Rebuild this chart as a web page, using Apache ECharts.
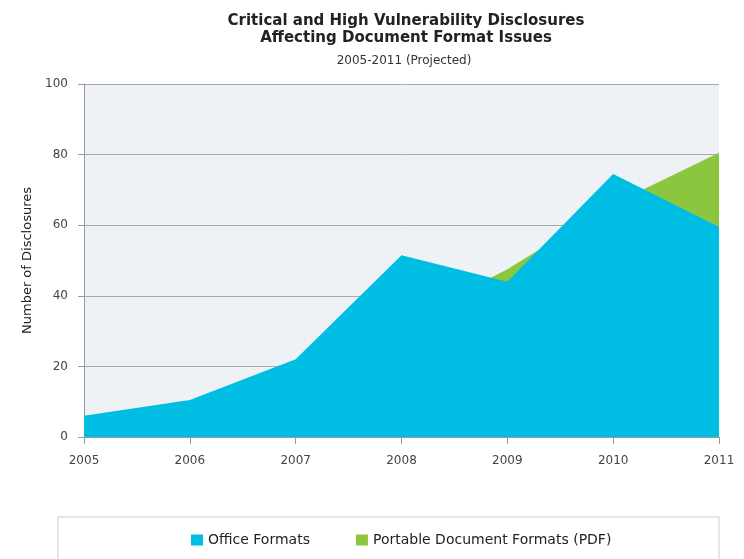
<!DOCTYPE html>
<html>
<head>
<meta charset="utf-8">
<script src="https://cdn.jsdelivr.net/npm/echarts@6/dist/echarts.min.js"></script>
<style>
  html, body { margin: 0; padding: 0; background: #fff; }
  #chart { width: 744px; height: 559px; }
</style>
</head>
<body>
<div id="chart"></div>
<script>
// data
const years = ["2005", "2006", "2007", "2008", "2009", "2010", "2011"];
const officeFormats = [6, 10.5, 22, 51.5, 44, 74.5, 59.5];
// PDF sits behind the office area until about 2009
const pdfFormats = [2, 5, 12, 32, 47.5, 66, 80.5];
const yTicks = [0, 20, 40, 60, 80, 100];

const font = "DejaVu Sans, Liberation Sans, sans-serif";
const chart = echarts.init(document.getElementById("chart"));

const option = {
  animation: false,
  textStyle: { fontFamily: font },
  title: [
    {
      text: "Critical and High Vulnerability Disclosures\nAffecting Document Format Issues",
      left: 401,
      textAlign: "center",
      top: 8,
      textStyle: { fontFamily: font, fontSize: 15, fontWeight: "bold", color: "#222", lineHeight: 17 }
    },
    {
      text: "2005-2011 (Projected)",
      left: 399,
      textAlign: "center",
      top: 50,
      textStyle: { fontFamily: font, fontSize: 12, fontWeight: "normal", color: "#333" }
    }
  ],
  grid: { left: 84, right: 25, top: 84, bottom: 122 },
  legend: {
    top: 528,
    left: 186,
    icon: "rect",
    itemWidth: 12,
    itemHeight: 11,
    itemGap: 46,
    textStyle: { fontFamily: font, fontSize: 14, color: "#222" },
    data: ["Office Formats", "Portable Document Formats (PDF)"]
  },
  graphic: [
    {
      type: "rect",
      shape: { x: 58, y: 517, width: 661, height: 50 },
      style: { fill: "none", stroke: "#ccc", lineWidth: 1 },
      z: -1
    }
  ],
  xAxis: {
    type: "category",
    data: years,
    boundaryGap: false,
    axisLine: { lineStyle: { color: "#999" } },
    axisTick: { alignWithLabel: true, length: 7, lineStyle: { color: "#999" } },
    axisLabel: { fontFamily: font, fontSize: 12, color: "#444", margin: 18 },
    z: 5
  },
  yAxis: {
    type: "value",
    min: 0,
    max: yTicks[yTicks.length - 1],
    interval: yTicks[1] - yTicks[0],
    name: "Number of Disclosures",
    nameLocation: "middle",
    nameGap: 49,
    nameTextStyle: { fontFamily: font, fontSize: 13, color: "#222" },
    axisLine: { show: true, lineStyle: { color: "#999" } },
    axisTick: { show: true, length: 6, lineStyle: { color: "#999" } },
    axisLabel: { fontFamily: font, fontSize: 12, color: "#444", margin: 16 },
    splitLine: { lineStyle: { color: "#aaa", width: 1 } },
    splitArea: { show: true, areaStyle: { color: ["#eef1f6", "#eef1f6"] } }
  },
  series: [
    {
      name: "Portable Document Formats (PDF)",
      type: "line",
      data: pdfFormats,
      symbol: "none",
      lineStyle: { width: 0 },
      itemStyle: { color: "#8cc63f" },
      areaStyle: { color: "#8cc63f", opacity: 1 },
      z: 2
    },
    {
      name: "Office Formats",
      type: "line",
      data: officeFormats,
      symbol: "none",
      lineStyle: { width: 0 },
      itemStyle: { color: "#00bde3" },
      areaStyle: { color: "#00bde3", opacity: 1 },
      z: 3
    }
  ]
};

chart.setOption(option);
</script>
</body>
</html>
